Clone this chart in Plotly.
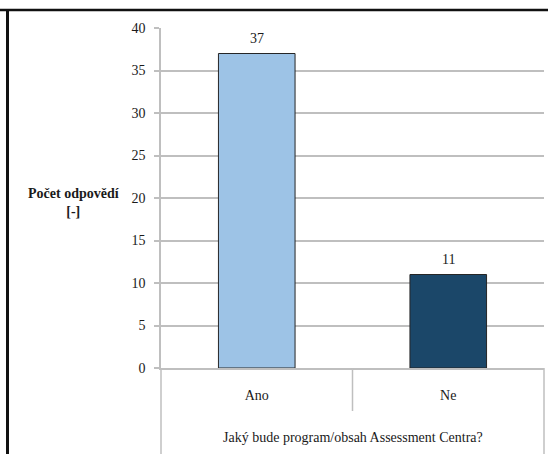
import plotly.graph_objects as go

# Survey answers: "Jaký bude program/obsah Assessment Centra?"
categories = ["Ano", "Ne"]
counts = [37, 11]
bar_colors = ["#9DC3E6", "#1B4769"]
question = "Jaký bude program/obsah Assessment Centra?"
y_title = "Počet odpovědí<br>[-]"
y_ticks = [0, 5, 10, 15, 20, 25, 30, 35, 40]

W, H = 548, 454
L, R, T, B = 161, 4, 28, 86
pw, ph = W - L - R, H - T - B

def px_x(px):
    return (px - L) / pw

def px_y(py):
    return (H - B - py) / ph

FONT = "'Liberation Serif', 'Times New Roman', serif"
GRID = "#BFBFBF"
TXT = "#1a1a1a"

fig = go.Figure()
fig.add_trace(go.Bar(
    x=categories,
    y=counts,
    width=0.4,
    marker=dict(color=bar_colors, line=dict(color="#262626", width=1)),
    hoverinfo="skip",
))

# value labels above each bar
for c, v in zip(categories, counts):
    fig.add_annotation(x=c, y=v, text=str(v), showarrow=False,
                       yanchor="bottom", yshift=6,
                       font=dict(family=FONT, size=14, color=TXT))

# y-axis title, horizontal on the left
fig.add_annotation(xref="paper", yref="paper", x=px_x(74), y=px_y(202),
                   text="<b>" + y_title + "</b>", showarrow=False,
                   xanchor="center", yanchor="middle", align="center",
                   font=dict(family=FONT, size=14, color=TXT))

# outer category label
fig.add_annotation(xref="paper", yref="paper", x=0.5, y=px_y(437),
                   text=question, showarrow=False,
                   xanchor="center", yanchor="middle",
                   font=dict(family=FONT, size=14, color=TXT))

shapes = []
# axis frame lines running down through the category area
for xp, y_end in [(0, px_y(H)), (1, px_y(H)), (0.5, px_y(411))]:
    shapes.append(dict(type="line", xref="paper", yref="paper",
                       x0=xp, x1=xp, y0=0, y1=y_end,
                       line=dict(color=GRID, width=1.5)))
# outer black frame
shapes.append(dict(type="line", xref="paper", yref="paper",
                   x0=px_x(0), x1=px_x(W), y0=px_y(10), y1=px_y(10),
                   line=dict(color="#111111", width=2.5)))
shapes.append(dict(type="line", xref="paper", yref="paper",
                   x0=px_x(7.5), x1=px_x(7.5), y0=px_y(10), y1=px_y(H),
                   line=dict(color="#111111", width=3)))

fig.update_layout(
    width=W, height=H,
    margin=dict(l=L, r=R, t=T, b=B),
    paper_bgcolor="white", plot_bgcolor="white",
    showlegend=False,
    shapes=shapes,
    font=dict(family=FONT, size=14, color=TXT),
    xaxis=dict(
        type="category",
        showgrid=False,
        showline=True, linecolor=GRID, linewidth=1.5,
        ticks="outside", ticklen=13, tickcolor="rgba(0,0,0,0)",
        tickfont=dict(family=FONT, size=14, color=TXT),
        fixedrange=True,
    ),
    yaxis=dict(
        range=[0, 40],
        tickvals=y_ticks,
        showgrid=True, gridcolor=GRID, gridwidth=1.5,
        showline=True, linecolor=GRID, linewidth=1.5,
        ticks="outside", ticklen=5, tickcolor=GRID, tickwidth=1.5,
        ticklabelstandoff=6,
        tickfont=dict(family=FONT, size=14, color=TXT),
        zeroline=False,
        fixedrange=True,
    ),
)

fig.write_html("out.html", config={"displayModeBar": False})
